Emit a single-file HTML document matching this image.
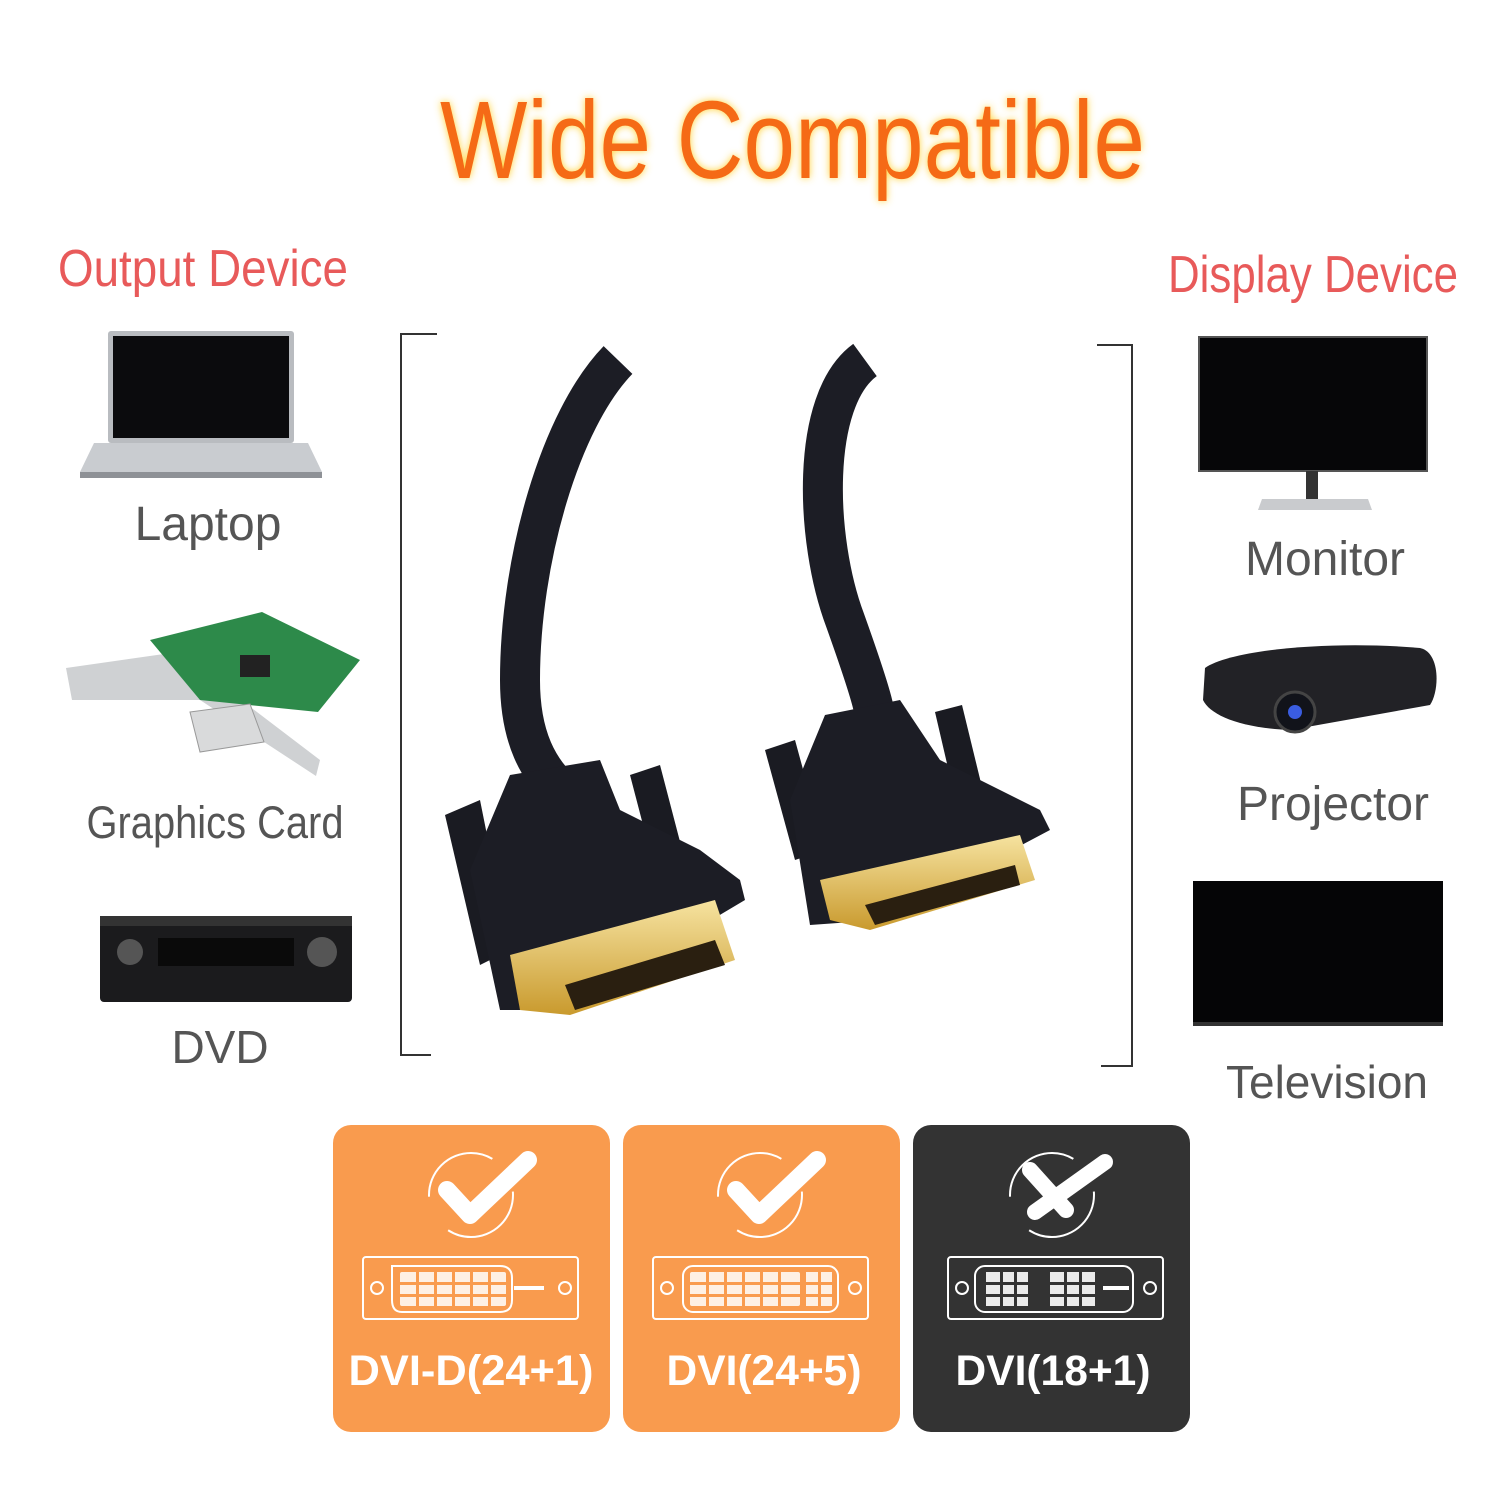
<!DOCTYPE html>
<html><head><meta charset="utf-8"><style>
html,body{margin:0;padding:0;background:#fff}
svg{display:block}
text{font-family:"Liberation Sans",sans-serif}
</style></head><body>
<svg width="1500" height="1500" viewBox="0 0 1500 1500" xmlns="http://www.w3.org/2000/svg">
<defs>
<filter id="glow" x="-10%" y="-30%" width="120%" height="160%">
<feGaussianBlur in="SourceAlpha" stdDeviation="4" result="b"/>
<feFlood flood-color="#ffd23a"/><feComposite in2="b" operator="in" result="g"/>
<feMerge><feMergeNode in="g"/><feMergeNode in="SourceGraphic"/></feMerge>
</filter>
<linearGradient id="gold" x1="0" y1="0" x2="0" y2="1"><stop offset="0" stop-color="#f6e3a0"/><stop offset="1" stop-color="#c99a2e"/></linearGradient>
</defs>
<rect width="1500" height="1500" fill="#fff"/>
<text x="440" y="178" font-size="110" fill="#f56a12" textLength="705" lengthAdjust="spacingAndGlyphs" filter="url(#glow)">Wide Compatible</text>
<text x="58" y="286" font-size="52" fill="#e85a5a" textLength="290" lengthAdjust="spacingAndGlyphs">Output Device</text>
<text x="1168" y="292" font-size="52" fill="#e85a5a" textLength="290" lengthAdjust="spacingAndGlyphs">Display Device</text>

<!-- laptop -->
<rect x="108" y="331" width="186" height="112" rx="3" fill="#b9bcc0"/>
<rect x="113" y="336" width="176" height="102" fill="#0b0b0d"/>
<path d="M94 443 H308 L322 472 H80 Z" fill="#c9ccd0"/>
<rect x="80" y="472" width="242" height="6" fill="#8e9196"/>
<text x="208" y="540" font-size="48" fill="#555" text-anchor="middle">Laptop</text>

<!-- graphics card -->
<path d="M66 668 L178 652 L320 760 L316 776 L200 700 L72 700 Z" fill="#cfd1d3"/>
<path d="M150 640 L262 612 L360 660 L318 712 L200 700 Z" fill="#2d8a4a"/>
<path d="M190 712 L250 704 L264 742 L200 752 Z" fill="#d9dadb" stroke="#999"/>
<rect x="240" y="655" width="30" height="22" fill="#222"/>
<text x="215" y="838" font-size="45" fill="#555" text-anchor="middle" textLength="257" lengthAdjust="spacingAndGlyphs">Graphics Card</text>

<!-- DVD -->
<rect x="100" y="916" width="252" height="86" rx="4" fill="#1b1b1d"/>
<rect x="100" y="916" width="252" height="10" fill="#333"/>
<circle cx="130" cy="952" r="13" fill="#555"/><circle cx="322" cy="952" r="15" fill="#555"/>
<rect x="158" y="938" width="136" height="28" fill="#0a0a0a"/>
<text x="220" y="1063" font-size="46" fill="#555" text-anchor="middle">DVD</text>

<!-- brackets -->
<path d="M437 334 H401 V1055 H431" fill="none" stroke="#333" stroke-width="2"/>
<path d="M1097 345 H1132 V1066 H1101" fill="none" stroke="#333" stroke-width="2"/>

<!-- cables -->
<path d="M618 360 C560 420 520 560 520 680 C520 740 540 770 560 790" fill="none" stroke="#1c1d25" stroke-width="40"/>
<path d="M865 360 C810 400 815 540 845 620 C870 690 880 720 880 760" fill="none" stroke="#1c1d25" stroke-width="40"/>
<!-- left connector -->
<g>
<path d="M445 815 L480 800 L510 950 L480 965 Z" fill="#1a1b22"/>
<path d="M630 775 L660 765 L690 880 L660 890 Z" fill="#1a1b22"/>
<path d="M510 775 L600 760 L620 810 L700 850 L740 880 L745 900 L560 1010 L500 1010 L470 870 Z" fill="#1c1d25"/>
<path d="M510 955 L715 900 L735 960 L570 1015 L520 1010 Z" fill="url(#gold)"/>
<path d="M565 985 L715 940 L725 965 L575 1010 Z" fill="#2a1f10"/>
</g>
<!-- right connector -->
<g>
<path d="M765 750 L795 740 L825 850 L795 860 Z" fill="#1a1b22"/>
<path d="M935 712 L962 705 L990 820 L962 828 Z" fill="#1a1b22"/>
<path d="M825 715 L900 700 L940 760 L1040 810 L1050 830 L880 920 L810 925 L790 800 Z" fill="#1c1d25"/>
<path d="M820 880 L1020 835 L1035 880 L870 930 L830 920 Z" fill="url(#gold)"/>
<path d="M865 905 L1015 865 L1020 885 L875 925 Z" fill="#2a1f10"/>
</g>

<!-- monitor -->
<rect x="1199" y="337" width="228" height="134" fill="#060608" stroke="#555" stroke-width="2"/>
<rect x="1306" y="471" width="12" height="28" fill="#333"/>
<path d="M1262 499 H1368 L1372 510 H1258 Z" fill="#c9cbce"/>
<text x="1325" y="575" font-size="48" fill="#555" text-anchor="middle">Monitor</text>

<!-- projector -->
<path d="M1205 668 C1230 650 1330 640 1420 648 C1440 652 1440 690 1430 705 L1290 730 C1240 728 1210 715 1203 700 Z" fill="#222226"/>
<circle cx="1295" cy="712" r="20" fill="#11131a" stroke="#444" stroke-width="3"/>
<circle cx="1295" cy="712" r="7" fill="#3a5de0"/>
<text x="1333" y="820" font-size="48" fill="#555" text-anchor="middle">Projector</text>

<!-- TV -->
<rect x="1193" y="881" width="250" height="144" fill="#050506"/>
<rect x="1193" y="1022" width="250" height="4" fill="#333"/>
<text x="1327" y="1098" font-size="46" fill="#555" text-anchor="middle">Television</text>

<!-- badges -->
<g>
<rect x="333" y="1125" width="277" height="307" rx="18" fill="#f99b4e"/>
<rect x="623" y="1125" width="277" height="307" rx="18" fill="#f99b4e"/>
<rect x="913" y="1125" width="277" height="307" rx="18" fill="#333"/>

<!-- check 1 -->
<ellipse cx="471" cy="1195" rx="42" ry="42" fill="none" stroke="#fff" stroke-width="2" stroke-dasharray="90 40"/>
<path d="M447 1190 L470 1215 L528 1160" fill="none" stroke="#fff" stroke-width="18" stroke-linecap="round" stroke-linejoin="round"/>
<!-- check 2 -->
<ellipse cx="760" cy="1195" rx="42" ry="42" fill="none" stroke="#fff" stroke-width="2" stroke-dasharray="90 40"/>
<path d="M736 1190 L759 1215 L817 1160" fill="none" stroke="#fff" stroke-width="18" stroke-linecap="round" stroke-linejoin="round"/>
<!-- x -->
<ellipse cx="1052" cy="1195" rx="42" ry="42" fill="none" stroke="#fff" stroke-width="2" stroke-dasharray="90 40"/>
<path d="M1030 1170 L1066 1210 M1035 1212 L1105 1162" fill="none" stroke="#fff" stroke-width="16" stroke-linecap="round"/>

<!-- connector icons -->
<g fill="none" stroke="#fff" stroke-width="2">
<rect x="363" y="1257" width="215" height="62" rx="3"/>
<path d="M392 1266 H500 Q512 1266 512 1278 V1300 Q512 1312 500 1312 H402 Q392 1312 392 1300 Z" transform="translate(0,0)"/>
<circle cx="377" cy="1288" r="6"/><circle cx="565" cy="1288" r="6"/>
<rect x="653" y="1257" width="215" height="62" rx="3"/>
<rect x="683" y="1266" width="155" height="46" rx="10"/>
<circle cx="667" cy="1288" r="6"/><circle cx="855" cy="1288" r="6"/>
<rect x="948" y="1257" width="215" height="62" rx="3"/>
<rect x="975" y="1266" width="158" height="46" rx="10"/>
<circle cx="962" cy="1288" r="6"/><circle cx="1150" cy="1288" r="6"/>
</g>
<rect x="398" y="1272" width="5" height="5" fill="none"/>
<g fill="#fff">
<rect x="400" y="1272" width="106" height="34" rx="2" fill="#fff" opacity="0.85"/>
<rect x="514" y="1286" width="30" height="4"/>
<rect x="690" y="1272" width="110" height="34" rx="2" opacity="0.85"/>
<rect x="806" y="1272" width="26" height="34" opacity="0.85"/>
<rect x="986" y="1272" width="42" height="34" opacity="0.9"/>
<rect x="1050" y="1272" width="45" height="34" opacity="0.9"/>
<rect x="1103" y="1286" width="26" height="4"/>
</g>
<g fill="#f99b4e">
<rect x="400" y="1282" width="106" height="3"/><rect x="400" y="1294" width="106" height="3"/>
<rect x="416" y="1272" width="3" height="34"/><rect x="434" y="1272" width="3" height="34"/><rect x="452" y="1272" width="3" height="34"/><rect x="470" y="1272" width="3" height="34"/><rect x="488" y="1272" width="3" height="34"/>
<rect x="690" y="1282" width="142" height="3"/><rect x="690" y="1294" width="142" height="3"/>
<rect x="706" y="1272" width="3" height="34"/><rect x="724" y="1272" width="3" height="34"/><rect x="742" y="1272" width="3" height="34"/><rect x="760" y="1272" width="3" height="34"/><rect x="778" y="1272" width="3" height="34"/><rect x="800" y="1272" width="6" height="34"/><rect x="818" y="1272" width="3" height="34"/>
</g>
<g fill="#333">
<rect x="986" y="1282" width="110" height="3"/><rect x="986" y="1294" width="110" height="3"/>
<rect x="1000" y="1272" width="3" height="34"/><rect x="1014" y="1272" width="3" height="34"/>
<rect x="1064" y="1272" width="3" height="34"/><rect x="1079" y="1272" width="3" height="34"/>
</g>

<text x="471" y="1385" font-size="43" font-weight="bold" fill="#fff" text-anchor="middle" textLength="245" lengthAdjust="spacingAndGlyphs">DVI-D(24+1)</text>
<text x="764" y="1385" font-size="43" font-weight="bold" fill="#fff" text-anchor="middle" textLength="195" lengthAdjust="spacingAndGlyphs">DVI(24+5)</text>
<text x="1053" y="1385" font-size="43" font-weight="bold" fill="#fff" text-anchor="middle" textLength="195" lengthAdjust="spacingAndGlyphs">DVI(18+1)</text>
</g>
</svg>
</body></html>
